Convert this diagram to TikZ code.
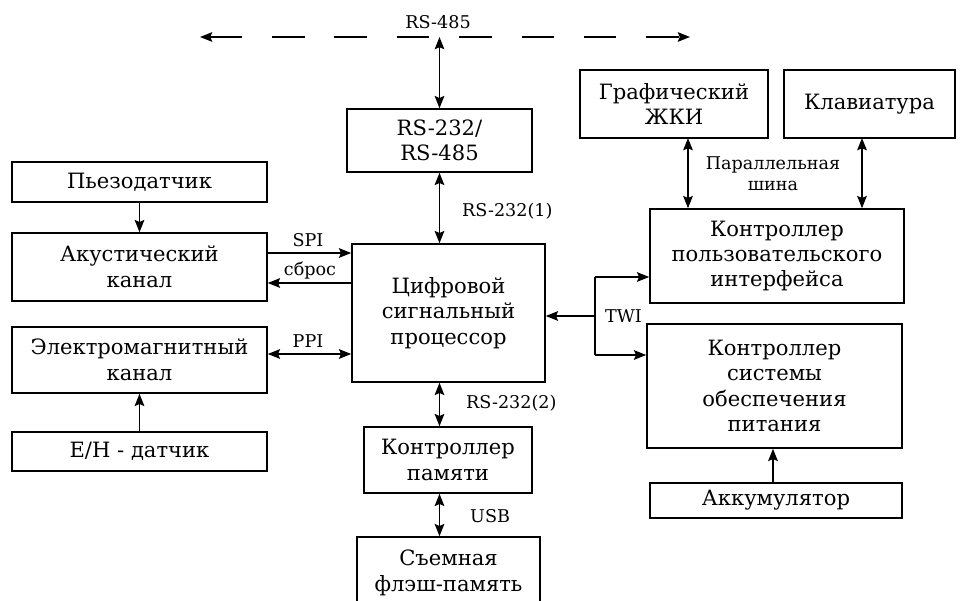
\documentclass[tikz,border=0pt]{standalone}
\usepackage{fontspec}
\setmainfont{DejaVu Serif}
\usetikzlibrary{calc,arrows.meta}

\begin{document}
\begin{tikzpicture}[x=0.02cm, y=-0.02cm,
  block/.style={draw, line width=0.9pt, align=center, inner sep=0pt,
    font=\fontsize{12}{14.5}\selectfont},
  tag/.style={font=\fontsize{10}{12}\selectfont, align=center},
  link/.style={line width=0.9pt, -{Stealth[length=7pt,width=5.5pt,inset=1.2pt]}},
  duplex/.style={line width=0.9pt,
    {Stealth[length=7pt,width=5.5pt,inset=1.2pt]}-{Stealth[length=7pt,width=5.5pt,inset=1.2pt]}}]
  \useasboundingbox (0,0) rectangle (960,601);
  \clip (0,0) rectangle (960,601);

  % sensors and channels (left column)
  \node[block, minimum width=5.1cm, minimum height=0.8cm] (piezo) at (139.5,182) {Пьезодатчик};
  \node[block, minimum width=5.1cm, minimum height=1.36cm] (acoustic) at (139.5,267) {Акустический\\канал};
  \node[block, minimum width=5.1cm, minimum height=1.32cm] (em) at (139.5,360) {Электромагнитный\\канал};
  \node[block, minimum width=5.1cm, minimum height=0.78cm] (ehsens) at (139.5,451.5) {Е/Н - датчик};

  % processor column
  \node[block, minimum width=3.7cm, minimum height=1.26cm] (rs) at (439.5,140.5) {RS-232/\\RS-485};
  \node[block, minimum width=3.86cm, minimum height=2.76cm] (dsp) at (448.5,313) {Цифровой\\сигнальный\\процессор};
  \node[block, minimum width=3.36cm, minimum height=1.32cm] (mem) at (448,460) {Контроллер\\памяти};
  \node[block, minimum width=3.66cm, minimum height=1.44cm] (flash) at (448.5,573) {Съемная\\флэш-память};

  % interface and power (right column)
  \node[block, minimum width=3.76cm, minimum height=1.36cm] (lcd) at (674,104) {Графический\\ЖКИ};
  \node[block, minimum width=3.42cm, minimum height=1.36cm] (kbd) at (869.5,104) {Клавиатура};
  \node[block, minimum width=5.08cm, minimum height=1.88cm] (ui) at (777,256) {Контроллер\\пользовательского\\интерфейса};
  \node[block, minimum width=5.1cm, minimum height=2.48cm] (pwr) at (774.5,386) {Контроллер\\системы\\обеспечения\\питания};
  \node[block, minimum width=5.04cm, minimum height=0.7cm] (bat) at (776,500.5) {Аккумулятор};

  % RS-485 bus
  \coordinate (busL) at (200,37);
  \coordinate (busR) at (690,37);
  \draw[duplex, dash pattern=on 18.5pt off 17pt] (busL) -- (busR);
  \node[tag] (t485) at (438,22) {RS-485};
  \draw[duplex] (rs.north |- busL) -- (rs.north);
  \draw[duplex] (rs.south) -- (rs.south |- dsp.north);
  \node[tag, anchor=west] (t232a) at (456,211) {RS-232(1)};

  % left links
  \coordinate (spi) at ($(acoustic.east)+(0,-14)$);
  \coordinate (reset) at ($(acoustic.east)+(0,16)$);
  \coordinate (ppi) at ($(em.east)+(0,-6)$);
  \draw[link] (piezo) -- (acoustic);
  \draw[link] (ehsens) -- (em);
  \draw[link] (spi) -- (spi -| dsp.west);
  \node[tag] (tspi) at (308,240) {SPI};
  \draw[link] (reset -| dsp.west) -- (reset);
  \node[tag] (treset) at (310,271) {сброс};
  \draw[duplex] (ppi) -- (ppi -| dsp.west);
  \node[tag] (tppi) at (308,341) {PPI};

  % memory links
  \draw[duplex] (dsp.south -| rs.south) -- (mem.north -| rs.south);
  \node[tag, anchor=west] (t232b) at (460,403) {RS-232(2)};
  \draw[duplex] (mem.south -| rs.south) -- (flash.north -| rs.south);
  \node[tag, anchor=west] (tusb) at (464,516) {USB};

  % TWI
  \coordinate (twi) at (595,316);
  \coordinate (twiU) at (595,277);
  \coordinate (twiP) at (595,355);
  \draw[link] (twi) -- (dsp.east |- twi);
  \draw[line width=0.9pt] (twiU) -- (twiP);
  \draw[link] (twiU) -- (twiU -| ui.west);
  \draw[link] (twiP) -- (twiP -| pwr.west);
  \node[tag, anchor=west] (ttwi) at (599,316) {TWI};

  % parallel bus
  \coordinate (lcdbus) at (688,138);
  \coordinate (kbdbus) at (862,138);
  \draw[duplex] (lcdbus) -- (lcdbus |- ui.north);
  \draw[duplex] (kbdbus) -- (kbdbus |- ui.north);
  \node[tag] (tpar) at (773,174) {Параллельная\\шина};
  \draw[link] (bat.north -| 773,0) -- (pwr.south -| 773,0);
\end{tikzpicture}
\end{document}
